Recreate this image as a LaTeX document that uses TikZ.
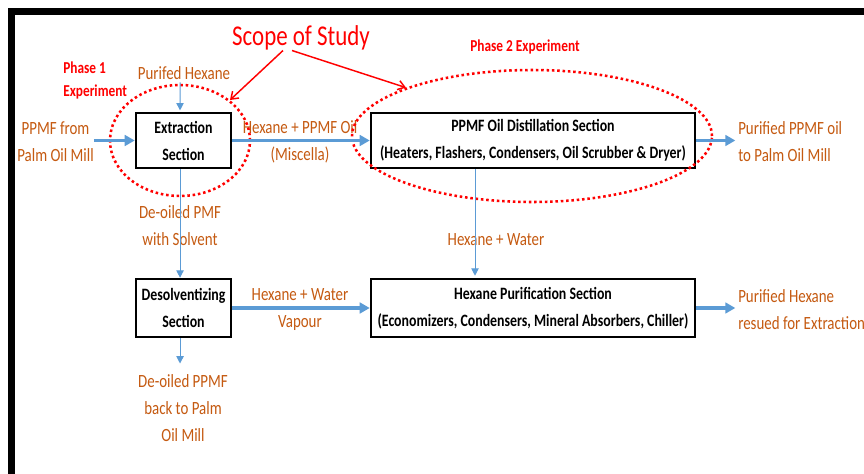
\documentclass[tikz,border=0pt]{standalone}
\usepackage{fontspec}
\setmainfont{Carlito}[FakeStretch=0.8]
\usetikzlibrary{arrows.meta,shapes.geometric}
\definecolor{orng}{HTML}{C55A11}
\definecolor{flowblue}{HTML}{5B9BD5}
\begin{document}
\begin{tikzpicture}[x=0.75pt,y=-0.75pt,
  lbl/.style={text=orng,font=\fontsize{14}{20.25}\selectfont,align=center,inner sep=0pt},
  sect/.style={draw=black,line width=1.9pt,font=\bfseries\fontsize{13}{20.25}\selectfont,align=center,inner sep=0pt},
  phase/.style={text=red,font=\bfseries\fontsize{12.5}{17.25}\selectfont,inner sep=0pt},
  bigflow/.style={draw=flowblue,line width=2.4pt,-{Triangle[length=7.5pt,width=8pt]}},
  smallflow/.style={draw=flowblue,line width=0.75pt,-{Triangle[length=5.5pt,width=5.5pt]}},
  scopering/.style={ellipse,draw=red,line width=1.9pt,dash pattern=on 1.9pt off 2.1pt,inner sep=0pt},
  scopearrow/.style={draw=red,line width=1.1pt,-{Straight Barb[length=5pt,width=7pt]}}
]
\useasboundingbox (0,0) rectangle (864,474);
\fill[white] (0,0) rectangle (864,474);
% frame
\draw[line width=5pt] (11.7,474) -- (11.7,11.7) -- (864,11.7);

% section boxes
\node[sect,minimum width=71.25pt,minimum height=41.25pt] (extr) at (183.5,140.5) {Extraction\\Section};
\node[sect,minimum width=243pt,minimum height=41.25pt] (dist) at (533,140.5) {PPMF Oil Distillation Section\\(Heaters, Flashers, Condensers, Oil Scrubber \& Dryer)};
\node[sect,minimum width=71.25pt,minimum height=43.5pt] (desolv) at (183.5,308) {Desolventizing\\Section};
\node[sect,minimum width=243pt,minimum height=43.5pt] (hexpur) at (533,308) {Hexane Purification Section\\(Economizers, Condensers, Mineral Absorbers, Chiller)};

% labels
\node[lbl] (ppmfin) at (55.5,141.5) {PPMF from\\Palm Oil Mill};
\node[lbl] (purhex) at (184,73) {Purifed Hexane};
\node[lbl] (miscella) at (300,141.5) {Hexane + PPMF Oil\\(Miscella)};
\node[lbl,anchor=west,align=left] (outoil) at (738,141.5) {Purified PPMF oil\\to Palm Oil Mill};
\node[lbl] (deoilsolv) at (180,225.5) {De-oiled PMF\\with Solvent};
\node[lbl] (hexwater) at (496,240) {Hexane + Water};
\node[lbl] (vapour) at (300,309.5) {Hexane + Water\\Vapour};
\node[lbl,anchor=west,align=left] (outhex) at (738,309.5) {Purified Hexane\\resued for Extraction};
\node[lbl] (deoil) at (183,408) {De-oiled PPMF\\back to Palm\\Oil Mill};

% red annotations
\node[text=red,font=\fontsize{21.5}{24}\selectfont,inner sep=0pt] (scope) at (301,38) {Scope of Study};
\node[phase,anchor=west,align=left] (phase1) at (63,80.5) {Phase 1\\Experiment};
\node[phase] (phase2) at (525,47) {Phase 2 Experiment};
\node[scopering,minimum width=105pt,minimum height=83.25pt] (ell1) at (180,140.5) {};
\node[scopering,minimum width=270pt,minimum height=99pt] (ell2) at (532,136) {};
\draw[scopearrow] ([xshift=-13.5pt]scope.south) -- (ell1.39);
\draw[scopearrow] ([xshift=-6.75pt]scope.south) -- (ell2.159);

% flows
\draw[bigflow] (ppmfin.east |- extr.west) -- (extr.west);
\draw[bigflow] (extr.east) -- (dist.west);
\draw[bigflow,shorten >=2pt] (dist.east) -- (dist.east -| outoil.west);
\draw[bigflow] (desolv.east) -- (hexpur.west);
\draw[bigflow,shorten >=2pt] (hexpur.east) -- (hexpur.east -| outhex.west);
\draw[smallflow,shorten <=2pt,shorten >=1pt] ([xshift=-3pt]purhex.south) -- ([xshift=-2.6pt]extr.north);
\draw[smallflow] ([xshift=-2.6pt]extr.south) -- ([xshift=-2.6pt]desolv.north);
\draw[smallflow,shorten >=1.5pt] ([xshift=-43.5pt]dist.south) -- ([xshift=-43.5pt]hexpur.north);
\draw[smallflow,shorten >=8pt] ([xshift=-2.6pt]desolv.south) -- ([xshift=-2.6pt]desolv.south |- deoil.north);
\end{tikzpicture}
\end{document}
